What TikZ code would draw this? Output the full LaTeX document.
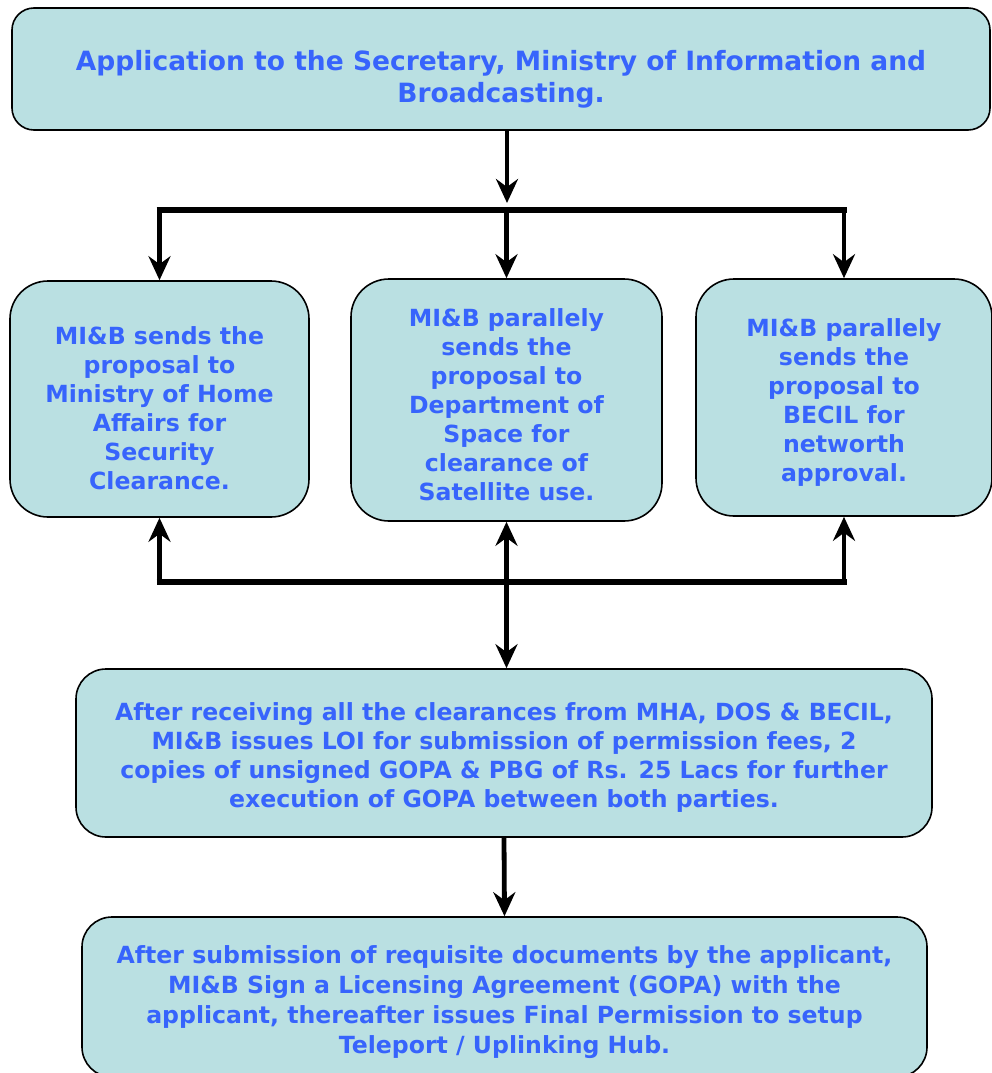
\documentclass[tikz,border=0pt]{standalone}
\usepackage{fontspec}
\setmainfont{DejaVu Sans}
\usetikzlibrary{arrows.meta}
\definecolor{boxfill}{RGB}{186,224,226}
\definecolor{txtblue}{RGB}{55,100,252}
\newcommand\dnstrut[1]{\rule{0pt}{#1pt}}
\begin{document}
\begin{tikzpicture}[x=1pt,y=-1pt,
  box/.style={draw=black, line width=1.6pt, fill=boxfill, align=center,
    text=txtblue, font=\fontsize{23.6}{29}\selectfont\bfseries, inner sep=0pt},
  arr/.style={line width=4.8pt, -{Stealth[length=24pt,width=22pt,inset=8pt]}},
  darr/.style={line width=4.8pt, {Stealth[length=24pt,width=22pt,inset=8pt]}-{Stealth[length=24pt,width=22pt,inset=8pt]}}]
\useasboundingbox (0,0) rectangle (992,1073);
\node[box, font=\fontsize{26.5}{32}\selectfont\bfseries, rounded corners=22pt, minimum width=978pt, minimum height=122pt] (top) at (501,69)
  {\dnstrut{40}Application to the Secretary, Ministry of Information and\\Broadcasting.};
\node[box, rounded corners=38pt, minimum width=299pt, minimum height=236pt] (l) at (159.5,399)
  {\dnstrut{37}MI\&B sends the\\proposal to\\Ministry of Home\\Affairs for\\Security\\Clearance.};
\node[box, rounded corners=38pt, minimum width=311pt, minimum height=242pt] (m) at (506.5,400)
  {\dnstrut{27}MI\&B parallely\\sends the\\proposal to\\Department of\\Space for\\clearance of\\Satellite use.};
\node[box, rounded corners=38pt, minimum width=296pt, minimum height=237pt] (r) at (844,397.5)
  {\dnstrut{27}MI\&B parallely\\sends the\\proposal to\\BECIL for\\networth\\approval.};
\node[box, rounded corners=30pt, minimum width=856pt, minimum height=168pt] (b4) at (504,753)
  {\dnstrut{26}After receiving all the clearances from MHA, DOS \& BECIL,\\MI\&B issues LOI for submission of permission fees, 2\\copies of unsigned GOPA \& PBG of Rs. 25 Lacs for further\\execution of GOPA between both parties.};
\node[box, font=\fontsize{23.6}{30}\selectfont\bfseries, rounded corners=30pt, minimum width=845pt, minimum height=160pt] (b5) at (504.5,997)
  {\dnstrut{29}After submission of requisite documents by the applicant,\\MI\&B Sign a Licensing Agreement (GOPA) with the\\applicant, thereafter issues Final Permission to setup\\Teleport / Uplinking Hub.};
\coordinate (j1) at (507,210);
\coordinate (j2) at (507,582);
\draw[arr] (top.south -| j1) -- ([yshift=7pt]j1);
\draw[line width=6pt] ([xshift=-3pt]l.north |- j1) -- ([xshift=3pt]r.north |- j1);
\draw[arr] (l.north |- j1) -- (l.north);
\draw[arr] (m.north |- j1) -- (m.north);
\draw[arr] (r.north |- j1) -- (r.north);
\draw[line width=6pt] ([xshift=-3pt]l.south |- j2) -- ([xshift=3pt]r.south |- j2);
\draw[arr] (l.south |- j2) -- (l.south);
\draw[arr] (r.south |- j2) -- (r.south);
\draw[darr] (m.south) -- (m.south |- b4.north);
\draw[arr] (b4.south) -- (b5.north);
\end{tikzpicture}
\end{document}
